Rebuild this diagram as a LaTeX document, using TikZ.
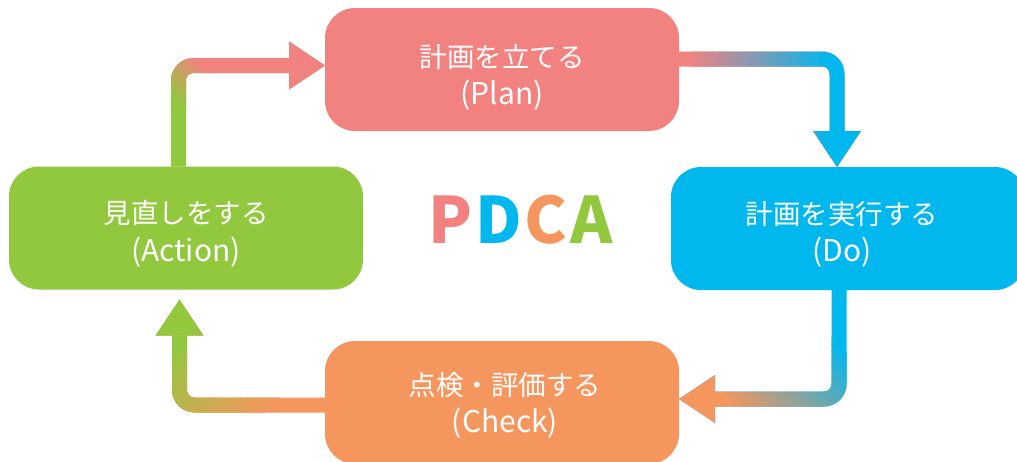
\documentclass[tikz,border=0pt]{standalone}
\usepackage{fontspec}
\setmainfont{Noto Sans CJK JP}
\usetikzlibrary{arrows.meta,calc}

\definecolor{planc}{HTML}{F28280}
\definecolor{doc}{HTML}{00B7EE}
\definecolor{chkc}{HTML}{F5965F}
\definecolor{actc}{HTML}{92C83E}

% Draws connector #1 in colour #5, then blends it into colour #6 across a
% band of half-width #4 centred on coordinate #2, running in direction #3.
\newcommand\gradconn[6]{%
  \draw[conn,#5] #1;
  \foreach \k in {0,...,24}{%
    \pgfmathsetmacro\sa{-#4+2*#4*\k/24}%
    \pgfmathsetmacro\sb{\k==24 ? 900 : -#4+2*#4*(\k+1)/24+0.8}%
    \pgfmathtruncatemacro\pc{\k==24 ? 0 : 100-100*(\k+0.5)/24}%
    \begin{scope}
      \clip ($(#2)+(#3:\sa)+(#3+90:900)$) -- ($(#2)+(#3:\sb)+(#3+90:900)$)
         -- ($(#2)+(#3:\sb)+(#3-90:900)$) -- ($(#2)+(#3:\sa)+(#3-90:900)$) -- cycle;
      \draw[conn,#5!\pc!#6] #1;
    \end{scope}
  }}

% second (latin) line of a stage label
\newcommand\latinline[1]{{\fontsize{30pt}{38pt}\selectfont #1}}

\begin{document}
\begin{tikzpicture}[x=1pt,y=-1pt,
  box/.style={rounded corners=30pt, minimum width=354pt, minimum height=123pt,
    inner sep=0pt, outer sep=0pt},
  label text/.style={text=white, align=center, inner sep=0pt,
    font=\fontsize{27.5pt}{37.5pt}\selectfont},
  conn/.style={line width=15pt, rounded corners=15pt,
    -{Triangle[width=48pt,length=36pt,line width=0pt]}}]

\useasboundingbox (0,0) rectangle (1017,461);
\clip (0,0) rectangle (1017,461);

% the four stages
\node[box, fill=planc] (plan) at (502,69.5) {};
\node[box, fill=doc]   (do)   at (848,228.5) {};
\node[box, fill=chkc]  (chk)  at (502,402.5) {};
\node[box, fill=actc]  (act)  at (186,228) {};

\node[label text] (plan-t) at ([yshift=-8pt]plan.center) {計画を立てる\\\latinline{(Plan)}};
\node[label text] (do-t)   at ([yshift=-6pt,xshift=-6pt]do.center) {計画を実行する\\\latinline{(Do)}};
\node[label text] (chk-t)  at ([yshift=-3pt,xshift=3pt]chk.center) {点検・評価する\\\latinline{(Check)}};
\node[label text] (act-t)  at ([yshift=-6pt]act.center) {見直しをする\\\latinline{(Action)}};

% centre title
\node[font=\fontsize{64pt}{64pt}\selectfont\bfseries] (pdca) at (520.5,220)
  {\textcolor{planc}{P}\kern3pt\textcolor{doc}{D}\kern3pt\textcolor{chkc}{C}\kern3pt\textcolor{actc}{A}};

% corners of the cycle
\coordinate (k1) at (178.5,65.5);
\coordinate (k2) at (837,59);
\coordinate (k3) at (839,399);
\coordinate (k4) at (179.5,405);
\coordinate (t4) at ($(act.south -| k4)+(0,10)$);

% centres of the colour blends
\coordinate (g1) at (185,78);
\coordinate (g2) at (760,59);
\coordinate (g3) at (800,390);
\coordinate (g4) at (215,385);

\gradconn{(act.north -| k1) |- (plan.west |- k1)}{g1}{-45}{22}{actc}{planc}
\gradconn{(plan.east |- k2) -| (do.north -| k2)}{g2}{0}{70}{planc}{doc}
\gradconn{(do.south -| k3) |- (chk.east |- k3)}{g3}{135}{60}{doc}{chkc}
\gradconn{(chk.west |- k4) -| (t4)}{g4}{225}{55}{chkc}{actc}

\end{tikzpicture}
\end{document}
